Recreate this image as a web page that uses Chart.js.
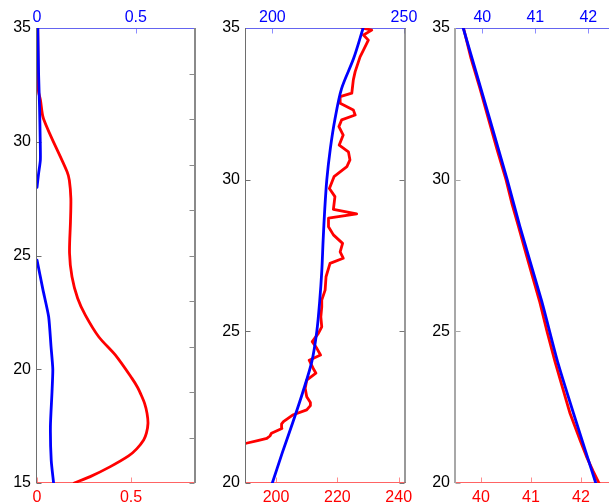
<!DOCTYPE html>
<html><head><meta charset="utf-8">
<script src="https://cdn.jsdelivr.net/npm/chart.js@4"></script>
<style>
html,body{margin:0;padding:0;background:#fff;width:609px;height:504px;overflow:hidden}
canvas{position:absolute;top:0}
</style></head><body>
<canvas id="c1" width="200" height="504" style="left:0px"></canvas>
<canvas id="c2" width="220" height="504" style="left:200px"></canvas>
<canvas id="c3" width="199" height="504" style="left:410px"></canvas>
<script>
// ---------- Panel 1 ----------
const p1RedDepth = [35, 34, 33, 32.2, 31.85, 31.0, 28.68, 28.3, 27.51, 26.5, 25.1, 24.07, 23.12, 22.38, 21.43, 20.63, 19.6, 19.2, 18.94, 18.5, 18.06, 17.62, 17.2, 16.89, 16.5, 16.19, 15.72, 15.28, 15.0];
const p1RedVal   = [0.004, 0.005, 0.006, 0.008, 0.018, 0.035, 0.16, 0.172, 0.18, 0.178, 0.173, 0.186, 0.216, 0.257, 0.328, 0.416, 0.505, 0.535, 0.55, 0.572, 0.585, 0.59, 0.582, 0.567, 0.53, 0.487, 0.39, 0.283, 0.198];
const p1BlueDepth = [35, 33, 31.5, 30.2, 29.2, 28.6, 28.0, 26.4, 24.8, 23.5, 22.31, 21.0, 20.0, 19.0, 17.5, 16.0, 15.0];
const p1BlueVal   = [0.004, 0.008, 0.013, 0.016, 0.017, 0.008, 0.0, null, 0.0, 0.03, 0.059, 0.071, 0.080, 0.076, 0.068, 0.072, 0.084];
const p1YTicks = [15, 20, 25, 30, 35];
const p1YRightTicks = [15, 17, 19, 21, 23, 25, 27, 29, 31, 33, 35];
const p1TopTicks = [0, 0.5];
const p1BottomTicks = [0, 0.5];

// ---------- Panel 2 ----------
const p2RedDepth = [21.31, 21.40, 21.47, 21.55, 21.64, 21.80, 21.95, 22.02, 22.24, 22.41, 22.55, 22.65, 22.84, 23.12, 23.39, 23.62, 23.80, 24.05, 24.22, 24.44, 24.66, 24.93, 25.15, 25.48, 25.81, 26.03, 26.36, 26.80, 27.24, 27.41, 27.62, 27.90, 28.18, 28.45, 28.73, 28.87, 29.02, 29.44, 29.71, 30.10, 30.43, 30.65, 30.92, 31.14, 31.47, 31.75, 31.97, 32.13, 32.30, 32.52, 32.74, 32.85, 33.29, 33.56, 34.05, 34.27, 34.60, 34.77, 34.93, 35.0];
const p2RedVal   = [190.3, 194, 197, 198, 198.5, 201.9, 201.8, 202.4, 205.4, 210, 211.2, 211.2, 210, 209.5, 210, 213, 212, 210.8, 214.5, 213.3, 211.8, 213.8, 214.9, 214.6, 214.9, 214.9, 216, 216.3, 217.6, 221.9, 220.9, 221.7, 218.7, 217.1, 217.1, 226.3, 218.7, 219.2, 217.4, 218.9, 223.1, 224.1, 223.6, 220.6, 221.9, 220.5, 221.4, 225.8, 225.2, 220.9, 220.9, 224.7, 225.2, 225.8, 227.4, 228.5, 230.1, 228.5, 231.2, 228.0];
const p2BlueDepth = [20, 21, 22, 23, 24, 25, 26, 27, 28, 29, 30, 31, 32, 33, 34, 35];
const p2BlueVal   = [200, 203.8, 207.8, 211.6, 215.0, 216.9, 218.0, 218.8, 219.3, 219.9, 220.7, 222.0, 223.8, 226.3, 230.9, 234.5];
const p2YTicks = [20, 25, 30, 35];
const p2TopTicks = [200, 250];
const p2BottomTicks = [200, 220, 240];

// ---------- Panel 3 ----------
const p3RedDepth = [35, 34, 33, 32, 31, 30, 29.2, 28.45, 27.5, 26.8, 26, 25, 24, 23.2, 22.3, 21.42, 20.87, 20.4, 20];
const p3RedVal   = [39.65, 39.80, 39.98, 40.15, 40.32, 40.50, 40.62, 40.75, 40.91, 41.03, 41.17, 41.32, 41.48, 41.62, 41.78, 41.98, 42.11, 42.24, 42.36];
const p3BlueDepth = [35, 32, 30, 28.45, 26, 24, 22.3, 20];
const p3BlueVal   = [39.64, 40.14, 40.47, 40.71, 41.12, 41.42, 41.72, 42.14];
const p3YTicks = [20, 25, 30, 35];
const p3TopTicks = [40, 41, 42];
const p3BottomTicks = [40, 41, 42];

const FONT = {family: "'Liberation Sans', Arial, Helvetica, sans-serif", size: 16};
const RED = '#ff0000', BLUE = '#0000ff';

function pts(depths, vals) { return depths.map((d, i) => ({x: vals[i], y: d})); }

function seg(ctx, x1, y1, x2, y2, color, w) {
  ctx.strokeStyle = color; ctx.lineWidth = w;
  ctx.beginPath(); ctx.moveTo(x1, y1); ctx.lineTo(x2, y2); ctx.stroke();
}

const framePlugin = {
  id: 'frame',
  beforeDatasetsDraw(chart, args, o) {
    const {ctx, chartArea: a, scales} = chart;
    const y = scales.y, xt = scales.xT, xb = scales.xB;
    const L = a.left - 0.5, R = a.right - 0.5, T = a.top + 0.5, B = a.bottom - 0.5;
    ctx.save();
    o.leftTicks.forEach(v => { const py = Math.round(y.getPixelForValue(v)) + 0.5; seg(ctx, L, py, L + 5, py, o.leftColor, 1); });
    if (o.rightTicks) o.rightTicks.forEach(v => { const py = Math.round(y.getPixelForValue(v)) + 0.5; seg(ctx, R - 5, py, R, py, o.rightColor, 1); });
    o.topTicks.forEach(v => { const px = Math.round(xt.getPixelForValue(v)) + 0.5; seg(ctx, px, T, px, T + 5, '#8c8cff', 1); });
    o.bottomTicks.forEach(v => { const px = Math.round(xb.getPixelForValue(v)) + 0.5; seg(ctx, px, B - 5, px, B, '#ff8c8c', 1); });
    seg(ctx, a.left - 1, T, a.right + 1, T, '#6464f0', 1);
    seg(ctx, a.left - 1, B, a.right + 1, B, '#ff6464', 1);
    seg(ctx, L - (o.leftWidth - 1) / 2, a.top, L - (o.leftWidth - 1) / 2, a.bottom, o.leftColor, o.leftWidth);
    if (o.right) seg(ctx, R + 0.5, a.top, R + 0.5, a.bottom, o.rightColor, o.rightWidth);
    ctx.restore();
  }
};

function axis(pos, min, max, ticksArr, color, size, pad) {
  const horiz = pos === 'top' || pos === 'bottom';
  return {
    type: 'linear', axis: horiz ? 'x' : 'y', position: pos, min: min, max: max,
    afterBuildTicks: s => { s.ticks = ticksArr.map(v => ({value: v})); },
    afterFit: s => {
      if (horiz) { s.height = size; } else { s.width = size; }
      s.paddingLeft = 0; s.paddingRight = 0; s.paddingTop = 0; s.paddingBottom = 0;
    },
    ticks: {color: color, font: FONT, padding: pad, autoSkip: false, maxRotation: 0, minRotation: 0,
            callback: v => String(v)},
    grid: {display: false, drawTicks: false},
    border: {display: false}
  };
}

function makeChart(id, cfg) {
  return new Chart(document.getElementById(id), {
    type: 'scatter',
    data: {
      datasets: [
        {data: pts(cfg.blueDepth, cfg.blueVal), xAxisID: 'xT', yAxisID: 'y', borderColor: BLUE,
         showLine: true, pointRadius: 0, borderWidth: 2.8, tension: cfg.blueTension, spanGaps: false,
         borderJoinStyle: 'round', borderCapStyle: 'round'},
        {data: pts(cfg.redDepth, cfg.redVal), xAxisID: 'xB', yAxisID: 'y', borderColor: RED,
         showLine: true, pointRadius: 0, borderWidth: 2.8, tension: cfg.redTension, spanGaps: false,
         borderJoinStyle: 'round', borderCapStyle: 'round'}
      ]
    },
    options: {
      responsive: false, animation: false, devicePixelRatio: 1,
      layout: {padding: {left: 0, right: cfg.padRight, top: 0, bottom: 0}},
      plugins: {legend: {display: false}, tooltip: {enabled: false}, frame: cfg.frame},
      scales: {
        y: axis('left', cfg.yMin, cfg.yMax, cfg.yTicks, '#000000', cfg.yWidth, 6),
        xT: axis('top', cfg.tMin, cfg.tMax, cfg.topTicks, BLUE, 28, 1),
        xB: axis('bottom', cfg.bMin, cfg.bMax, cfg.bottomTicks, RED, 21, 5)
      }
    },
    plugins: [framePlugin]
  });
}

makeChart('c1', {
  redDepth: p1RedDepth, redVal: p1RedVal, blueDepth: p1BlueDepth, blueVal: p1BlueVal,
  redTension: 0.3, blueTension: 0.2,
  yMin: 15, yMax: 35, yTicks: p1YTicks, yWidth: 37, padRight: 5,
  tMin: 0, tMax: 0.8, topTicks: p1TopTicks, bMin: 0, bMax: 0.84, bottomTicks: p1BottomTicks,
  frame: {leftTicks: p1YTicks, rightTicks: p1YRightTicks, topTicks: p1TopTicks, bottomTicks: p1BottomTicks,
          leftColor: '#6e6e6e', leftWidth: 1, right: true, rightColor: '#8a8a8a', rightWidth: 2}
});
makeChart('c2', {
  redDepth: p2RedDepth, redVal: p2RedVal, blueDepth: p2BlueDepth, blueVal: p2BlueVal,
  redTension: 0, blueTension: 0.3,
  yMin: 20, yMax: 35, yTicks: p2YTicks, yWidth: 46, padRight: 15,
  tMin: 190, tMax: 250.4, topTicks: p2TopTicks, bMin: 190.2, bMax: 242.05, bottomTicks: p2BottomTicks,
  frame: {leftTicks: p2YTicks, rightTicks: p2YTicks, topTicks: p2TopTicks, bottomTicks: p2BottomTicks,
          leftColor: '#6e6e6e', leftWidth: 1, right: true, rightColor: '#777777', rightWidth: 1.5}
});
makeChart('c3', {
  redDepth: p3RedDepth, redVal: p3RedVal, blueDepth: p3BlueDepth, blueVal: p3BlueVal,
  redTension: 0, blueTension: 0.2,
  yMin: 20, yMax: 35, yTicks: p3YTicks, yWidth: 46, padRight: 0,
  tMin: 39.504, tMax: 42.39, topTicks: p3TopTicks, bMin: 39.5, bMax: 42.56, bottomTicks: p3BottomTicks,
  frame: {leftTicks: p3YTicks, rightTicks: null, topTicks: p3TopTicks, bottomTicks: p3BottomTicks,
          leftColor: '#a8a8a8', leftWidth: 2, right: false, rightColor: '#777777', rightWidth: 1}
});
</script>
</body></html>
